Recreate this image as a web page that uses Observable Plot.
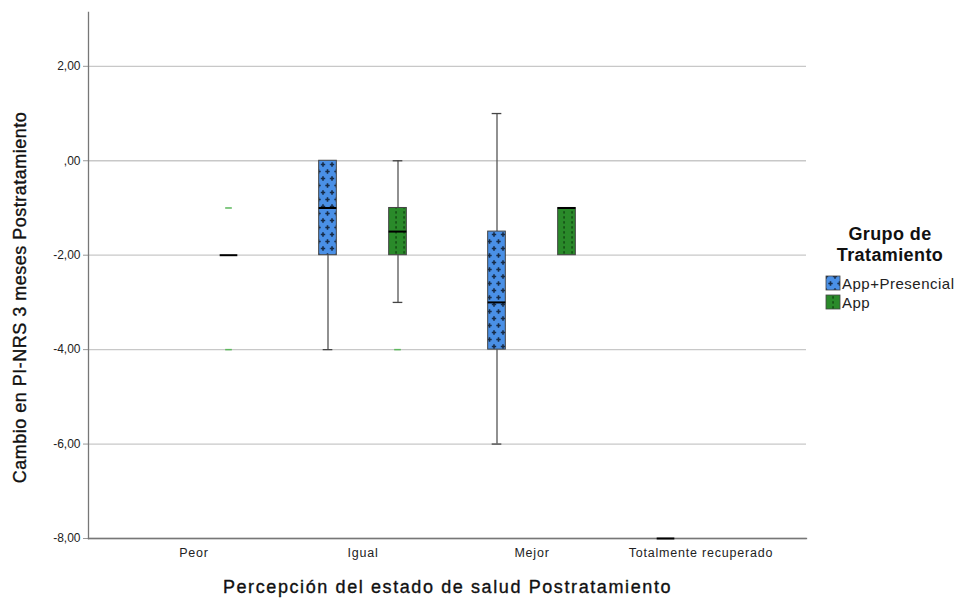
<!DOCTYPE html>
<html>
<head>
<meta charset="utf-8">
<script src="https://cdn.jsdelivr.net/npm/d3@7"></script>
<script src="https://cdn.jsdelivr.net/npm/@observablehq/plot@0.6"></script>
<style>
  body { margin: 0; background: #fff; }
  #chart { position: relative; width: 967px; height: 604px; }
  #chart [aria-description="x-title"] text { letter-spacing: 1.6px; }
  #chart [aria-description="y-title"] text { letter-spacing: 0.5px; }
  #chart [aria-label="x-axis tick label"] text { letter-spacing: 0.8px; }
</style>
</head>
<body>
<div id="chart"></div>
<script>
// Categories on the x axis and treatment groups
const categories = ["Peor", "Igual", "Mejor", "Totalmente recuperado"];
const groups = ["App+Presencial", "App"];

// Box summaries (one entry per category × group that has data)
const boxCategory = ["Peor", "Igual", "Igual", "Mejor", "Mejor", "Totalmente recuperado"];
const boxGroup = ["App", "App+Presencial", "App", "App+Presencial", "App", "App+Presencial"];
const q1 = [-2, -2, -2, -4, -2, -8];
const median = [-2, -1, -1.5, -3, -1, -8];
const q3 = [-2, 0, -1, -1.5, -1, -8];
const whiskerLow = [-2, -4, -3, -6, -2, -8];
const whiskerHigh = [-2, 0, 0, 1, -1, -8];

// Outliers
const outlierCategory = ["Peor", "Peor", "Igual"];
const outlierGroup = ["App", "App", "App"];
const outlierValue = [-1, -4, -4];

// Y axis ticks
const yTicks = [-8, -6, -4, -2, 0, 2];

const boxes = boxCategory.map((c, i) => ({
  category: c, group: boxGroup[i], q1: q1[i], median: median[i], q3: q3[i],
  lo: whiskerLow[i], hi: whiskerHigh[i]
}));
const outliers = outlierCategory.map((c, i) => ({category: c, group: outlierGroup[i], value: outlierValue[i]}));

const groupStyle = {
  "App+Presencial": {dx: -35, fill: "url(#patBlue)"},
  "App": {dx: 35, fill: "url(#patGreen)"}
};

const fmt = d => {
  const s = Math.abs(d).toFixed(2).replace(".", ",");
  const t = d === 0 ? ",00" : s;
  return (d < 0 ? "-" : "") + t;
};

const step = 718 / (4 + 0.24);
const inset = w => (step - w) / 2;

function groupMarks(g) {
  const {dx, fill} = groupStyle[g];
  const b = boxes.filter(d => d.group === g);
  const capsLo = b.filter(d => d.lo < d.q1);
  const capsHi = b.filter(d => d.hi > d.q3);
  const o = outliers.filter(d => d.group === g);
  return [
    Plot.ruleX(b.filter(d => d.lo < d.q1), {x: "category", y1: "lo", y2: "q1", dx, stroke: "#555", strokeWidth: 1.3}),
    Plot.ruleX(b.filter(d => d.hi > d.q3), {x: "category", y1: "q3", y2: "hi", dx, stroke: "#555", strokeWidth: 1.3}),
    Plot.tickY(capsLo, {x: "category", y: "lo", dx, stroke: "#444", strokeWidth: 1.3, insetLeft: inset(10), insetRight: inset(10)}),
    Plot.tickY(capsHi, {x: "category", y: "hi", dx, stroke: "#444", strokeWidth: 1.3, insetLeft: inset(10), insetRight: inset(10)}),
    Plot.barY(b.filter(d => d.q3 > d.q1), {x: "category", y1: "q1", y2: "q3", dx, fill: () => fill, stroke: "#444", strokeWidth: 1, insetLeft: inset(18), insetRight: inset(18)}),
    Plot.tickY(b, {x: "category", y: "median", dx, stroke: "#000", strokeWidth: 2, insetLeft: inset(18), insetRight: inset(18)}),
    Plot.tickY(o, {x: "category", y: "value", dx, stroke: "#5cb85c", strokeWidth: 1.5, insetLeft: inset(7), insetRight: inset(7)})
  ];
}

const plot = Plot.plot({
  width: 967,
  height: 604,
  marginLeft: 88,
  marginRight: 161,
  marginTop: 12,
  marginBottom: 66,
  style: {fontFamily: "'Liberation Sans', Arial, sans-serif", fontSize: "12px", color: "#222", background: "#fff"},
  x: {type: "band", domain: categories, paddingInner: 0, paddingOuter: 0.12, label: null},
  y: {domain: [-8, 3.14], label: null},
  color: {type: "identity"},
  marks: [
    Plot.gridY(yTicks, {stroke: "#c8c8c8", strokeOpacity: 1, strokeWidth: 1.3}),
    Plot.axisY(yTicks, {tickFormat: fmt, tickSize: 5, tickPadding: 3, stroke: "#999", fontSize: 12, label: null}),
    Plot.axisX({tickSize: 0, tickPadding: 10, fontSize: 12.5, label: null}),
    Plot.frame({anchor: "left", stroke: "#777", strokeWidth: 1.3}),
    Plot.frame({anchor: "bottom", stroke: "#777", strokeWidth: 1.3}),
    ...groupMarks("App+Presencial"),
    ...groupMarks("App"),
    Plot.text(["Cambio en PI-NRS 3 meses Postratamiento"], {frameAnchor: "left", textAnchor: "middle", dx: -68, dy: 22, rotate: -90, fontSize: 18, fill: "#111", stroke: "#111", strokeWidth: 0.35, text: d => d, ariaDescription: "y-title"}),
    Plot.text(["Percepción del estado de salud Postratamiento"], {frameAnchor: "bottom", dy: 54, fontSize: 18, fill: "#111", stroke: "#111", strokeWidth: 0.35, text: d => d, ariaDescription: "x-title"})
  ]
});

// Fill patterns for the two groups, plus the legend
const svg = d3.select(plot);
const defs = svg.insert("defs", ":first-child");

const pb = defs.append("pattern").attr("id", "patBlue").attr("patternUnits", "userSpaceOnUse")
  .attr("width", 9).attr("height", 14);
pb.append("rect").attr("width", 9).attr("height", 14).attr("fill", "#4a90e6");
for (const [cx, cy] of [[2.5, 3.5], [7, 10.5]]) {
  pb.append("path").attr("d", `M${cx - 2.2},${cy}H${cx + 2.2}M${cx},${cy - 2.2}V${cy + 2.2}`)
    .attr("stroke", "#172c48").attr("stroke-width", 1.6);
}
// wrap-around pieces of the staggered crosses so the tile repeats cleanly
pb.append("path").attr("d", `M${7 - 9 - 2.2},10.5H${7 - 9 + 2.2}`).attr("stroke", "#172c48").attr("stroke-width", 1.6);
pb.append("path").attr("d", `M${2.5 + 9 - 2.2},3.5H${2.5 + 9 + 2.2}`).attr("stroke", "#172c48").attr("stroke-width", 1.6);

const pg = defs.append("pattern").attr("id", "patGreen").attr("patternUnits", "userSpaceOnUse")
  .attr("width", 8).attr("height", 5);
pg.append("rect").attr("width", 8).attr("height", 5).attr("fill", "#2a8a2a");
pg.append("rect").attr("x", 0.4).attr("y", 1.2).attr("width", 1.3).attr("height", 2.4).attr("fill", "#0f400f");

const legend = svg.append("g").attr("font-family", "'Liberation Sans', Arial, sans-serif");
legend.append("text").attr("x", 890).attr("y", 240).attr("text-anchor", "middle")
  .attr("font-size", 18).attr("letter-spacing", "0.4px").attr("font-weight", "bold").attr("fill", "#111").text("Grupo de");
legend.append("text").attr("x", 890).attr("y", 261).attr("text-anchor", "middle")
  .attr("font-size", 18).attr("letter-spacing", "0.4px").attr("font-weight", "bold").attr("fill", "#111").text("Tratamiento");
groups.forEach((g, i) => {
  const y = 276 + i * 19;
  legend.append("rect").attr("x", 826).attr("y", y).attr("width", 14).attr("height", 14)
    .attr("fill", groupStyle[g].fill).attr("stroke", "#444").attr("stroke-width", 0.8);
  legend.append("text").attr("x", 842).attr("y", y + 12.5).attr("font-size", 15)
    .attr("letter-spacing", "0.5px").attr("text-anchor", "start").attr("fill", "#222").text(g);
});

document.getElementById("chart").appendChild(plot);
</script>
</body>
</html>
